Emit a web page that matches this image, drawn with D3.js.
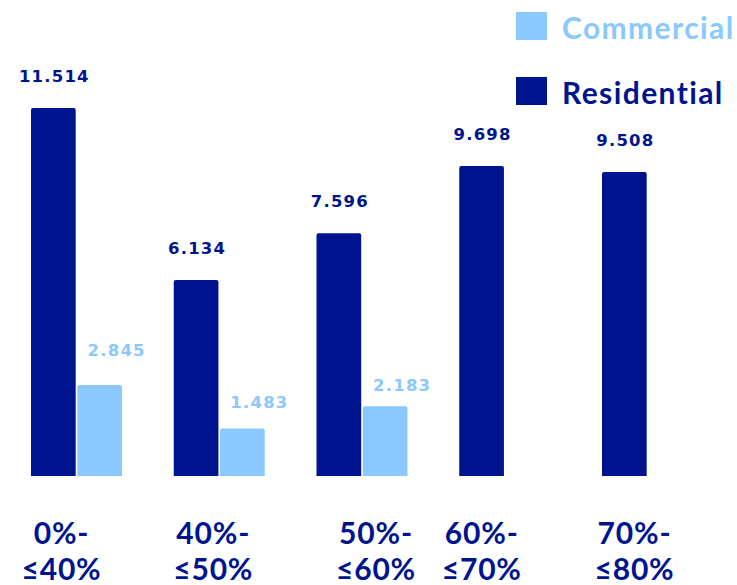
<!DOCTYPE html>
<html>
<head>
<meta charset="utf-8">
<script src="https://cdn.jsdelivr.net/npm/d3@7"></script>
<style>
  body { margin: 0; background: #fff; }
</style>
</head>
<body>
<div id="chart"></div>
<script>
// data
const categories = ['0%-|≤40%', '40%-|≤50%', '50%-|≤60%', '60%-|≤70%', '70%-|≤80%'];
const seriesNames = ['Residential', 'Commercial'];
const residential = [11.514, 6.134, 7.596, 9.698, 9.508];
const commercial = [2.845, 1.483, 2.183, null, null];

// small hand nudges for label placement seen in the original
const catLabelShift = [-15, -6, 14, -23, -13];
const comLabelLift = [35, 27, 21, 0, 0];

const navy = '#00148f';
const light = '#8ac8fe';

const width = 737, height = 585;
const baseY = 476;

const svg = d3.select('#chart').append('svg')
    .attr('width', width)
    .attr('height', height);

const x0 = d3.scaleBand()
    .domain(categories)
    .range([31, 693])
    .paddingInner(0.3625)
    .paddingOuter(0);

const x1 = d3.scaleBand()
    .domain(seriesNames)
    .range([0, x0.bandwidth()])
    .paddingInner(0.035);

const y = d3.scaleLinear()
    .domain([0, 11.514])
    .range([baseY, 108]);

const color = d3.scaleOrdinal().domain(seriesNames).range([navy, light]);

const rows = categories.map((c, i) => ({
    cat: c, i: i,
    vals: [
        { key: 'Residential', v: residential[i] },
        { key: 'Commercial', v: commercial[i] }
    ]
}));

const groups = svg.selectAll('.grp')
    .data(rows)
    .enter()
    .append('g')
    .attr('class', 'grp')
    .attr('transform', d => `translate(${x0(d.cat)},0)`);

// bars
groups.selectAll('path')
    .data(d => d.vals.filter(v => v.v != null).map(v => ({ ...v, i: d.i })))
    .enter()
    .append('path')
    .attr('fill', d => color(d.key))
    .attr('d', d => {
        const x = x1(d.key), w = x1.bandwidth();
        const top = y(d.v), r = 2;
        return `M${x},${baseY}V${top + r}Q${x},${top} ${x + r},${top}H${x + w - r}Q${x + w},${top} ${x + w},${top + r}V${baseY}Z`;
    });

// value labels
groups.selectAll('text.val')
    .data(d => d.vals.filter(v => v.v != null).map(v => ({ ...v, i: d.i })))
    .enter()
    .append('text')
    .attr('class', 'val')
    .attr('x', d => x1(d.key) + x1.bandwidth() / 2 + (d.key === 'Commercial' ? 17 : 1))
    .attr('y', d => d.key === 'Commercial' ? y(d.v) - comLabelLift[d.i] + 6 : y(d.v) - 26)
    .attr('text-anchor', 'middle')
    .attr('font-family', 'DejaVu Sans, sans-serif')
    .attr('font-weight', 'bold')
    .attr('font-size', '16.5px')
    .attr('letter-spacing', '1.2px')
    .attr('fill', d => color(d.key))
    .text(d => d3.format('.3f')(d.v));

// category labels (two lines)
const catText = groups.append('text')
    .attr('text-anchor', 'middle')
    .attr('font-family', 'Lato, sans-serif')
    .attr('font-weight', 'bold')
    .attr('font-size', '30px')
    .attr('letter-spacing', '0.8px')
    .attr('fill', navy)
    .attr('transform', d => `translate(${x0.bandwidth() / 2 + catLabelShift[d.i]},0)`);

catText.append('tspan')
    .attr('x', 0)
    .attr('y', 544)
    .text(d => d.cat.split('|')[0]);

catText.append('tspan')
    .attr('x', 0)
    .attr('y', 580)
    .text(d => d.cat.split('|')[1]);

// legend
const legendOrder = ['Commercial', 'Residential'];
const legend = svg.append('g')
    .attr('transform', 'translate(516,12)');

const item = legend.selectAll('.item')
    .data(legendOrder)
    .enter()
    .append('g')
    .attr('transform', (d, i) => `translate(0,${i * 65})`);

item.append('rect')
    .attr('width', 31)
    .attr('height', 28)
    .attr('fill', d => color(d));

item.append('text')
    .attr('x', 46)
    .attr('y', 27)
    .attr('font-family', 'Lato, sans-serif')
    .attr('font-weight', 'bold')
    .attr('font-size', '30px')
    .attr('letter-spacing', '1.4px')
    .attr('fill', d => color(d))
    .text(d => d);
</script>
</body>
</html>
